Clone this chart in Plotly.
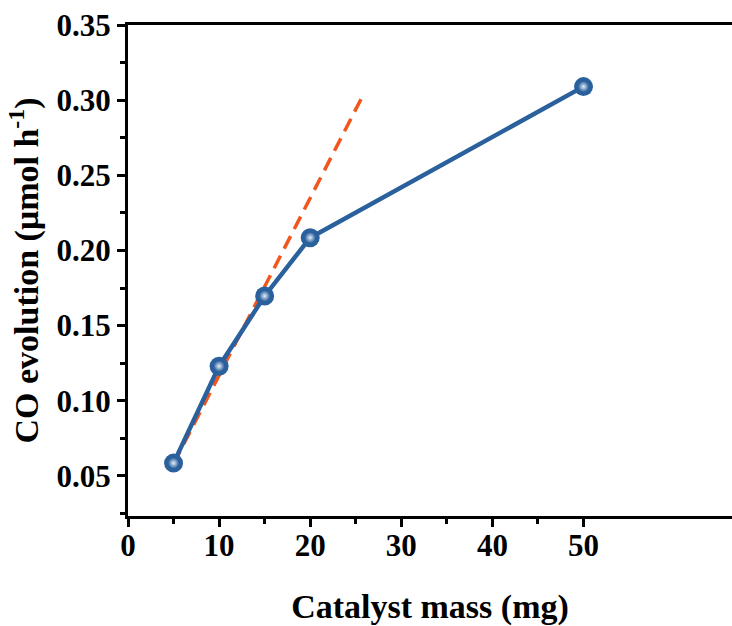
import plotly.graph_objects as go

mass = [5, 10, 15, 20, 50]
co_rate = [0.0585, 0.123, 0.1697, 0.2085, 0.309]
fit_x = [5, 25.8]
fit_y = [0.058, 0.3033]

BLUE = "#2A609C"
ORANGE = "#F2561D"
FONT = "Liberation Serif"
TICKFONT = dict(family=FONT, size=31, color="black", weight="bold")
TITLEFONT = dict(family=FONT, size=34, color="black", weight="bold")

fig = go.Figure()
fig.add_trace(go.Scatter(x=fit_x, y=fit_y, mode="lines",
                         line=dict(color=ORANGE, width=3.5, dash="14px,8px"),
                         showlegend=False, hoverinfo="skip"))
fig.add_trace(go.Scatter(x=mass, y=co_rate, mode="lines+markers",
                         line=dict(color=BLUE, width=4.5),
                         marker=dict(size=19, color=BLUE, line=dict(width=0)),
                         showlegend=False))
fig.add_trace(go.Scatter(x=mass, y=co_rate, mode="markers",
                         marker=dict(size=11, color=BLUE,
                                     gradient=dict(type="radial", color="#E6EEF8"),
                                     line=dict(width=0)),
                         showlegend=False, hoverinfo="skip"))

fig.update_layout(
    width=732, height=626,
    margin=dict(l=128, r=0, t=25, b=110),
    plot_bgcolor="white", paper_bgcolor="white",
    font=dict(family=FONT, size=30, color="black"),
    xaxis=dict(range=[0, 66.3], tickvals=[0, 10, 20, 30, 40, 50], ticks="outside",
               ticklen=8, tickwidth=3, tickcolor="black",
               showline=True, linewidth=3, linecolor="black", mirror=True,
               showgrid=False, zeroline=False, ticklabelstandoff=-8,
               minor=dict(tickvals=[5, 15, 25, 35, 45], ticks="outside", ticklen=5, tickwidth=3, tickcolor="black"),
               tickfont=TICKFONT,
               title=dict(text="Catalyst mass (mg)", font=TITLEFONT, standoff=34)),
    yaxis=dict(range=[0.0233, 0.35], tickvals=[0.05, 0.10, 0.15, 0.20, 0.25, 0.30, 0.35],
               tickformat=".2f", ticks="outside",
               ticklen=8, tickwidth=3, tickcolor="black",
               showline=True, linewidth=3, linecolor="black", mirror=False,
               showgrid=False, zeroline=False,
               minor=dict(tickvals=[0.025, 0.075, 0.125, 0.175, 0.225, 0.275, 0.325], ticks="outside", ticklen=5, tickwidth=3, tickcolor="black"),
               tickfont=TICKFONT,
               title=dict(text="CO evolution (μmol h<sup>-1</sup>)", font=TITLEFONT, standoff=8)),
)

fig.write_html("out.html")
